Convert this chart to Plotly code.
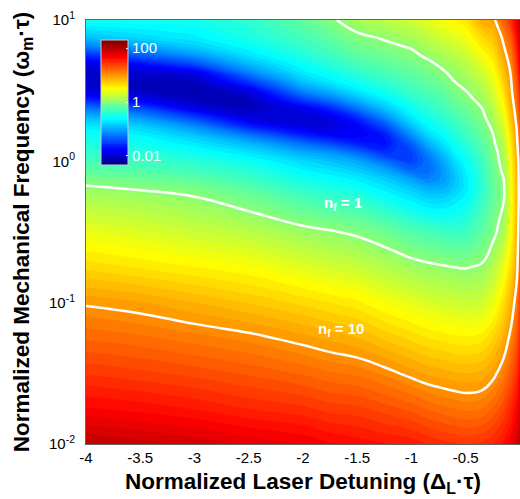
import plotly.graph_objects as go

detuning = [-4, -3.5, -3, -2.5, -2, -1.75, -1.5, -1.25, -1, -0.85, -0.7, -0.6, -0.5, -0.35, -0.25, -0.2, -0.15, -0.08, -0.03, 0]
log_freq = [-2, -1.75, -1.5, -1.25, -1, -0.75, -0.5, -0.25, -0.1875, -0.125, -0.0625, 0, 0.0625, 0.125, 0.1875,
            0.25, 0.3125, 0.375, 0.4375, 0.5, 0.5625, 0.625, 0.6875, 0.75, 0.8125, 0.875, 1]
freq = [10 ** v for v in log_freq]

# log10(n_f), one list per detuning, bottom to top
c_400 = [1.95,1.66,1.42,1.2,.98,.68,.42,.13,.03,-.1,-.22,-.32,-.42,-.5,-.58,-.72,-.92,-1.25,-1.65,-1.93,-2.03,-2.03,-1.9,-1.6,-1.2,-.92,-.55]
c_350 = [1.9,1.62,1.38,1.16,.93,.62,.36,.08,-.03,-.15,-.27,-.37,-.47,-.57,-.68,-.85,-1.1,-1.45,-1.85,-2.05,-2.09,-2.0,-1.75,-1.35,-1.05,-.8,-.55]
c_300 = [1.85,1.57,1.33,1.1,.85,.56,.28,0,-.1,-.22,-.35,-.45,-.58,-.72,-.9,-1.15,-1.5,-1.9,-2.08,-2.15,-2.08,-1.9,-1.45,-1.1,-.85,-.7,-.55]
c_250 = [1.78,1.5,1.27,1.04,.77,.5,.2,-.14,-.24,-.36,-.46,-.58,-.75,-.95,-1.25,-1.65,-1.95,-2.09,-2.07,-1.9,-1.55,-1.2,-.95,-.75,-.62,-.52,-.42]
c_200 = [1.72,1.45,1.2,.95,.68,.38,.07,-.33,-.44,-.55,-.67,-.8,-1.0,-1.28,-1.65,-1.93,-2.0,-1.85,-1.5,-1.15,-.9,-.72,-.6,-.48,-.4,-.32,-.2]
c_175 = [1.66,1.4,1.15,.9,.63,.32,.02,-.4,-.51,-.62,-.75,-.9,-1.1,-1.45,-1.8,-1.94,-1.88,-1.62,-1.25,-.95,-.72,-.58,-.46,-.36,-.28,-.2,-.04]
c_150 = [1.62,1.38,1.12,.85,.58,.27,-.04,-.46,-.58,-.7,-.85,-1.02,-1.3,-1.65,-1.83,-1.8,-1.6,-1.25,-.95,-.72,-.56,-.43,-.32,-.22,-.13,-.05,.12]
c_125 = [1.58,1.32,1.05,.76,.48,.18,-.13,-.6,-.72,-.85,-1.02,-1.28,-1.58,-1.72,-1.68,-1.45,-1.15,-.9,-.7,-.54,-.42,-.32,-.22,-.13,-.05,.02,.2]
c_100 = [1.55,1.26,.96,.68,.4,.09,-.26,-.74,-.88,-1.05,-1.32,-1.48,-1.48,-1.35,-1.12,-.9,-.72,-.58,-.46,-.36,-.28,-.2,-.12,-.05,.02,.12,.3]
c_085 = [1.5,1.2,.91,.63,.35,.05,-.31,-.84,-1.0,-1.2,-1.3,-1.28,-1.18,-.98,-.8,-.66,-.54,-.44,-.36,-.28,-.2,-.12,-.05,.04,.13,.22,.4]
c_070 = [1.46,1.16,.88,.6,.31,.02,-.36,-.84,-.98,-1.08,-1.07,-1.0,-.88,-.74,-.62,-.52,-.42,-.33,-.26,-.18,-.1,-.02,.05,.13,.22,.32,.5]
c_060 = [1.44,1.14,.86,.58,.3,0,-.38,-.76,-.87,-.9,-.86,-.78,-.67,-.57,-.48,-.4,-.32,-.23,-.15,-.07,0,.05,.12,.2,.29,.38,.56]
c_050 = [1.42,1.12,.85,.57,.28,-.01,-.36,-.66,-.72,-.71,-.67,-.61,-.53,-.45,-.37,-.3,-.22,-.15,-.07,0,.06,.13,.2,.28,.37,.45,.62]
c_035 = [1.45,1.14,.87,.6,.3,.03,-.22,-.41,-.44,-.43,-.4,-.36,-.3,-.24,-.18,-.12,-.06,0,.07,.14,.22,.3,.38,.47,.58,.68,.9]
c_025 = [1.5,1.22,.95,.7,.42,.18,-.07,-.2,-.2,-.18,-.16,-.13,-.09,-.05,-.01,.05,.13,.2,.26,.33,.4,.47,.54,.62,.7,.78,.95]
c_020 = [1.55,1.28,1.02,.78,.53,.3,.03,-.1,-.1,-.08,-.05,-.02,.01,.07,.14,.2,.27,.35,.42,.49,.56,.62,.7,.77,.84,.91,1.08]
c_015 = [1.6,1.35,1.1,.87,.65,.42,.14,-.03,-.03,0,.05,.1,.15,.2,.27,.35,.42,.5,.58,.65,.72,.78,.86,.93,.99,1.05,1.22]
c_008 = [1.72,1.5,1.28,1.07,.88,.68,.52,.48,.49,.5,.52,.55,.59,.63,.69,.75,.81,.87,.92,.97,1.0,1.03,1.07,1.12,1.2,1.28,1.5]
c_003 = [1.85,1.65,1.45,1.27,1.1,.93,.85,.82,.83,.84,.86,.88,.91,.95,.98,1.02,1.07,1.12,1.17,1.22,1.28,1.35,1.41,1.48,1.55,1.62,1.75]
c_000 = [2.0,1.82,1.65,1.5,1.38,1.27,1.18,1.12,1.12,1.12,1.12,1.12,1.16,1.2,1.25,1.3,1.36,1.42,1.48,1.55,1.61,1.68,1.74,1.8,1.86,1.92,2.05]

columns = [c_400, c_350, c_300, c_250, c_200, c_175, c_150, c_125, c_100, c_085,
           c_070, c_060, c_050, c_035, c_025, c_020, c_015, c_008, c_003, c_000]
log_nf = [[c[i] for c in columns] for i in range(len(log_freq))]

x_ticks = [-4, -3.5, -3, -2.5, -2, -1.5, -1, -0.5]
x_labels = ["-4", "-3.5", "-3", "-2.5", "-2", "-1.5", "-1", "-0.5"]
y_ticks = [0.01, 0.1, 1, 10]
y_labels = ["10<sup>-2</sup>", "10<sup>-1</sup>", "10<sup>0</sup>", "10<sup>1</sup>"]
cbar_ticks = [-2, 0, 2]
cbar_labels = ["0.01", "1", "100"]

jet = [[0, "rgb(0,0,128)"], [0.125, "rgb(0,0,255)"], [0.375, "rgb(0,255,255)"],
       [0.625, "rgb(255,255,0)"], [0.875, "rgb(255,0,0)"], [1, "rgb(128,0,0)"]]

ZMIN, ZMAX = -2.35, 2.3
fig = go.Figure()
fig.add_trace(go.Contour(
    x=detuning, y=freq, z=log_nf, colorscale=jet, zauto=False, zmin=ZMIN, zmax=ZMAX,
    contours=dict(coloring="fill", start=ZMIN, end=ZMAX, size=0.0727, showlines=False),
    line=dict(width=0, smoothing=1),
    hoverinfo="skip",
    colorbar=dict(
        x=0.0357, xanchor="left", y=0.805, yanchor="middle",
        lenmode="pixels", len=125, thicknessmode="pixels", thickness=27,
        outlinecolor="#cccccc", outlinewidth=1, borderwidth=0, xpad=0, ypad=0,
        tickmode="array", tickvals=cbar_ticks, ticktext=cbar_labels,
        ticks="inside", ticklen=2, tickcolor="white",
        tickfont=dict(family="Liberation Sans", size=15, color="white"),
    ),
))
fig.add_trace(go.Contour(
    x=detuning, y=freq, z=log_nf, showscale=False, hoverinfo="skip",
    colorscale=[[0, "white"], [1, "white"]],
    contours=dict(coloring="lines", start=0, end=1, size=1, showlabels=False),
    line=dict(width=2.5, smoothing=1.3),
))

font_b = dict(family="Liberation Sans", size=15, color="white")
fig.add_annotation(x=-1.63, y=-0.295, text="<b>n<sub>f</sub> = 1</b>", showarrow=False, font=font_b)
fig.add_annotation(x=-1.65, y=-1.187, text="<b>n<sub>f</sub> = 10</b>", showarrow=False, font=font_b)

fig.update_layout(
    width=520, height=499, margin=dict(l=85.5, r=0, t=20, b=55),
    paper_bgcolor="white", plot_bgcolor="white", showlegend=False,
    font=dict(family="Liberation Sans", color="black"),
    xaxis=dict(range=[-4, 0], tickmode="array", tickvals=x_ticks, ticktext=x_labels,
               ticks="", tickfont=dict(size=15), showgrid=False, zeroline=False,
               showline=True, linecolor="#666666", linewidth=1, mirror=True,
               title=dict(text="<b>Normalized Laser Detuning (Δ<sub>L</sub>·τ)</b>",
                          font=dict(size=22.5), standoff=8)),
    yaxis=dict(type="log", range=[-2, 1], tickmode="array", tickvals=y_ticks, ticktext=y_labels,
               ticks="outside", ticklen=7, tickcolor="white", tickfont=dict(size=15),
               showgrid=False, zeroline=False,
               showline=True, linecolor="#666666", linewidth=1, mirror=True,
               title=dict(text="<b>Normalized Mechanical Frequency (ω<sub>m</sub>·τ)</b>",
                          font=dict(size=22.5), standoff=13)),
)
fig.write_html("out.html", post_script="document.body.style.margin='0';",
               config=dict(displayModeBar=False))
